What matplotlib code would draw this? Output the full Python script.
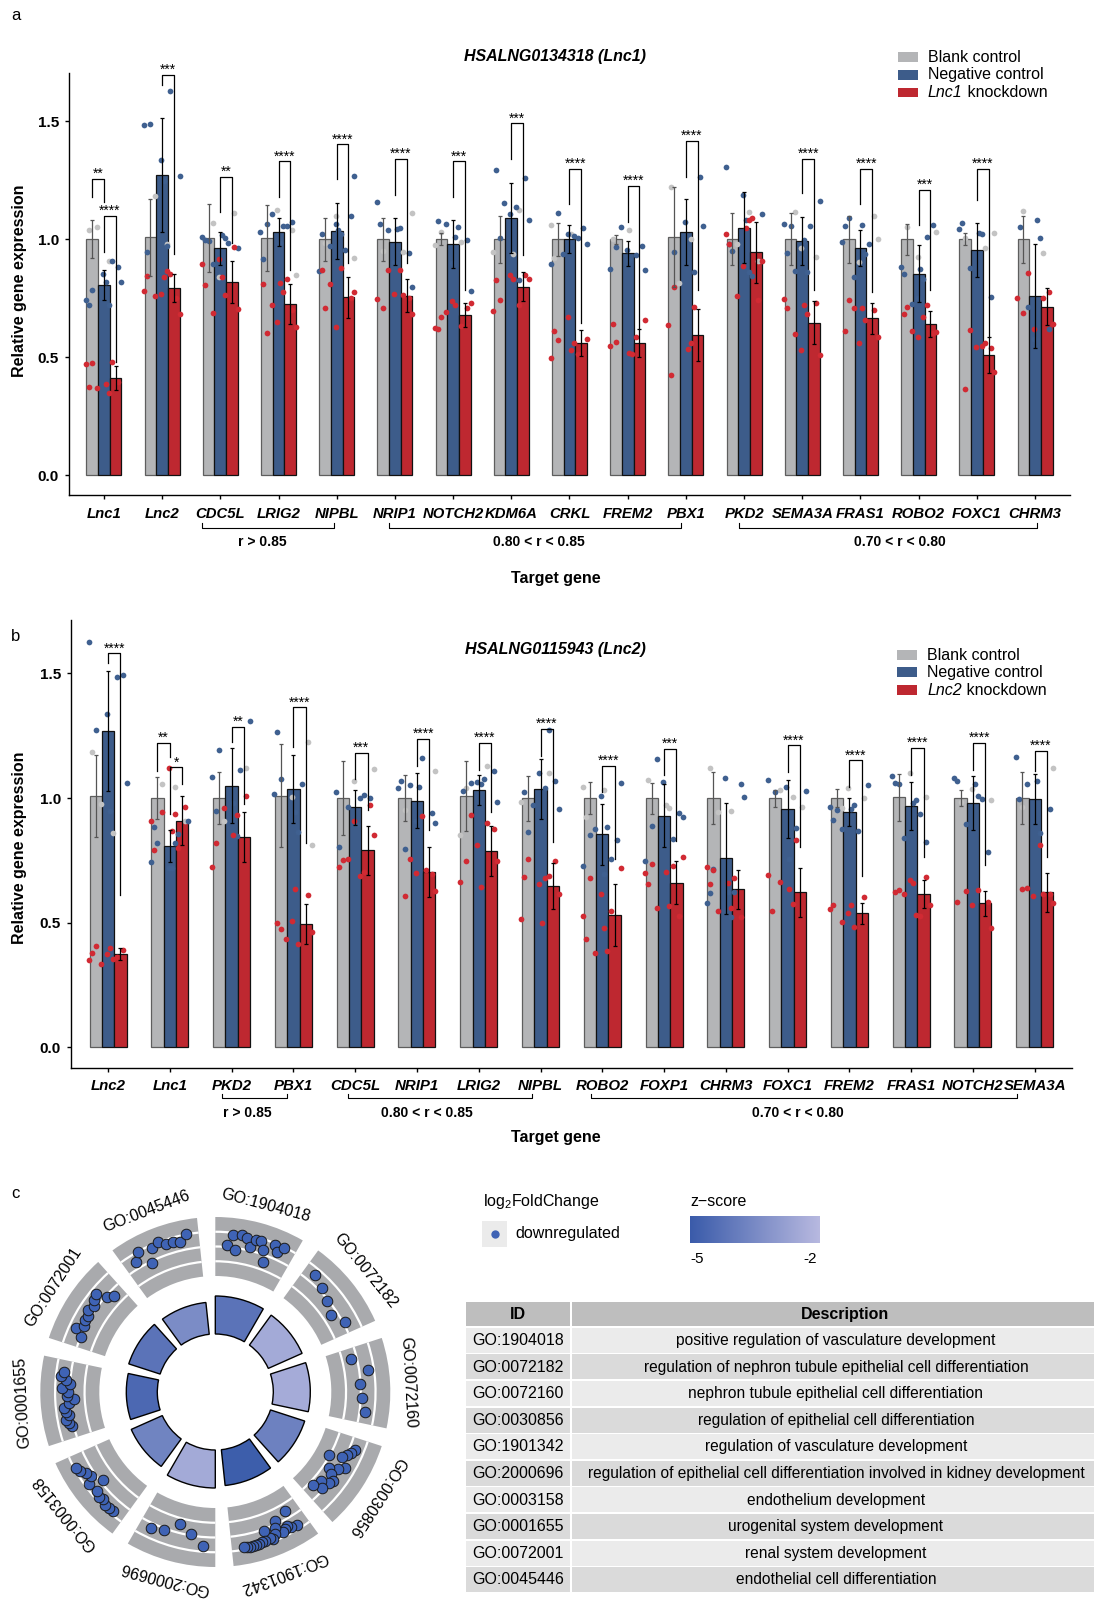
import numpy as np
import matplotlib
matplotlib.use("Agg")
import matplotlib.pyplot as plt
from matplotlib import font_manager
from matplotlib.patches import Rectangle, Wedge, Arc
from matplotlib.colors import LinearSegmentedColormap, Normalize
from matplotlib.transforms import blended_transform_factory

plt.rcParams['font.family'] = ['Liberation Sans', 'DejaVu Sans']
plt.rcParams['mathtext.fontset'] = 'custom'
plt.rcParams['mathtext.rm'] = 'Liberation Sans'
plt.rcParams['mathtext.it'] = 'Liberation Sans:italic'
plt.rcParams['mathtext.bf'] = 'Liberation Sans:bold'

_names = {f.name for f in font_manager.fontManager.ttflist}
NARROW = 'Liberation Sans Narrow' if 'Liberation Sans Narrow' in _names else 'Liberation Sans'
NARROW_SIZE = 11.5 if NARROW == 'Liberation Sans Narrow' else 10

W, H = 1094, 1601

# ---------------- panel a data ----------------
genes_a = ["Lnc1", "Lnc2", "CDC5L", "LRIG2", "NIPBL", "NRIP1", "NOTCH2", "KDM6A", "CRKL",
           "FREM2", "PBX1", "PKD2", "SEMA3A", "FRAS1", "ROBO2", "FOXC1", "CHRM3"]
blank_a = [1.0, 1.008, 1.005, 1.005, 1.0, 1.0, 1.0, 1.0, 1.0, 1.0, 1.01, 1.0, 1.0, 1.0, 1.0, 1.0, 1.0]
blank_a_err = [0.08, 0.165, 0.145, 0.14, 0.09, 0.09, 0.025, 0.1, 0.07, 0.02, 0.21, 0.11, 0.11, 0.1, 0.065, 0.025, 0.1]
neg_a = [0.806, 1.273, 0.962, 1.03, 1.035, 0.99, 0.98, 1.09, 1.0, 0.94, 1.033, 1.05, 0.993, 0.963, 0.855, 0.955, 0.76]
neg_a_err = [0.065, 0.24, 0.07, 0.06, 0.12, 0.1, 0.1, 0.15, 0.06, 0.055, 0.14, 0.15, 0.1, 0.075, 0.12, 0.115, 0.22]
kd_a = [0.412, 0.795, 0.82, 0.727, 0.755, 0.76, 0.68, 0.80, 0.562, 0.56, 0.596, 0.945, 0.647, 0.665, 0.643, 0.51, 0.715]
kd_a_err = [0.05, 0.06, 0.09, 0.085, 0.087, 0.07, 0.05, 0.063, 0.055, 0.06, 0.11, 0.13, 0.09, 0.065, 0.055, 0.075, 0.08]

dots_a_blank = [
    [1.04, 0.91, 1.054], [0.98, 1.185], [1.068, 1.113, 0.84], [1.04, 1.126, 0.85],
    [1.1, 0.922, 0.986], [1.11, 0.952, 0.945], [1.033, 0.99, 0.975], [1.124, 0.945, 0.939],
    [1.06, 1.021, 0.922], [1.041, 1.0], [1.222, 1.001, 0.815], [1.117, 0.982, 0.91],
    [1.117, 0.924, 0.965], [1.1, 0.904, 1.003], [0.925, 1.031, 1.054], [1.028, 1.007, 0.965],
    [1.12, 0.94],
]
dots_a_neg = [
    [0.884, 0.854, 0.82, 0.785, 0.908, 0.743, 0.82, 0.72, 0.72],
    [1.337, 1.27, 1.49, 1.627, 1.485, 1.248, 0.948, 0.97],
    [0.965, 0.994, 0.986, 1.01, 1.02, 0.999, 1.007, 0.894],
    [1.064, 1.058, 1.033, 0.986, 0.915, 1.058, 1.106, 1.072],
    [0.953, 0.866, 1.04, 1.023, 1.023, 0.97, 1.1, 1.066, 1.27],
    [1.158, 1.045, 1.066, 1.05, 1.04, 0.94, 0.904, 0.796],
    [1.01, 1.078, 1.052, 1.066, 0.996, 0.898, 0.782],
    [1.294, 1.139, 1.153, 1.259, 1.107, 1.082, 1.004, 0.827],
    [1.016, 0.936, 1.047, 1.024, 0.982, 1.113, 1.004, 0.894],
    [1.051, 0.973, 0.953, 0.868, 0.966, 0.935, 0.875, 0.912],
    [1.263, 1.074, 1.057, 0.945, 0.863],
    [1.19, 1.109, 0.95, 0.846, 1.308, 1.084, 0.979, 0.862],
    [1.164, 1.058, 1.058, 1.066, 0.996, 0.941, 0.862, 0.867],
    [1.089, 0.982, 0.99, 1.062, 1.055, 0.936, 0.84],
    [1.008, 0.884, 0.876, 0.853, 0.83, 0.724, 1.062, 0.753],
    [1.042, 1.027, 1.071, 1.024, 0.877, 0.755],
    [1.081, 1.054, 1.007, 0.714, 0.622, 0.577],
]
dots_a_kd = [
    [0.477, 0.48, 0.47, 0.387, 0.375, 0.347, 0.368, 0.395],
    [0.854, 0.78, 0.84, 0.843, 0.864, 0.76, 0.75, 0.77, 0.683],
    [0.895, 0.84, 0.805, 0.762, 0.686, 0.969, 0.915, 0.704],
    [0.813, 0.809, 0.778, 0.723, 0.7, 0.648, 0.63, 0.604, 0.832],
    [0.868, 0.878, 0.809, 0.75, 0.628, 0.775, 0.707],
    [0.87, 0.872, 0.75, 0.767, 0.685, 0.711, 0.762, 0.745],
    [0.693, 0.707, 0.737, 0.73, 0.669, 0.634, 0.624, 0.721, 0.618],
    [0.847, 0.849, 0.833, 0.744, 0.72, 0.697, 0.832, 0.829],
    [0.672, 0.577, 0.573, 0.515, 0.496, 0.529, 0.61, 0.559],
    [0.656, 0.563, 0.587, 0.547, 0.52, 0.64, 0.513],
    [0.798, 0.713, 0.635, 0.535, 0.426, 0.559],
    [1.092, 1.021, 1.047, 0.982, 1.081, 0.758, 0.743, 0.888, 0.907],
    [0.747, 0.721, 0.71, 0.683, 0.598, 0.731, 0.53, 0.509],
    [0.707, 0.611, 0.66, 0.71, 0.7, 0.562, 0.586, 0.741],
    [0.683, 0.669, 0.612, 0.601, 0.584, 0.608, 0.713, 0.721],
    [0.549, 0.615, 0.539, 0.542, 0.436, 0.365, 0.559],
    [0.856, 0.778, 0.62, 0.642, 0.689, 0.752, 0.75],
]
# (group, left bar, right bar, top, left leg end, right leg end, label)
sig_a = [
    (0, 0, 1, 1.256, 1.181, 1.16, "**"), (0, 1, 2, 1.099, 0.948, 0.48, "****"),
    (1, 1, 2, 1.696, 1.655, 0.936, "***"), (2, 1, 2, 1.266, 1.117, 0.983, "**"),
    (3, 1, 2, 1.33, 1.18, 0.87, "****"), (4, 1, 2, 1.403, 1.255, 0.9, "****"),
    (5, 1, 2, 1.34, 1.19, 0.898, "****"), (6, 1, 2, 1.33, 1.18, 0.785, "***"),
    (7, 1, 2, 1.492, 1.34, 0.933, "***"), (8, 1, 2, 1.30, 1.15, 0.644, "****"),
    (9, 1, 2, 1.226, 1.075, 0.622, "****"), (10, 1, 2, 1.416, 1.266, 0.785, "****"),
    (12, 1, 2, 1.34, 1.195, 0.785, "****"), (13, 1, 2, 1.30, 1.15, 0.778, "****"),
    (14, 1, 2, 1.209, 1.06, 0.785, "***"), (15, 1, 2, 1.30, 1.167, 0.587, "****"),
]
groups_a = [(1.68, 3.95, 2.72, "r > 0.85"), (4.89, 9.92, 7.47, "0.80 < r < 0.85"),
            (10.92, 16.04, 13.67, "0.70 < r < 0.80")]

# ---------------- panel b data ----------------
genes_b = ["Lnc2", "Lnc1", "PKD2", "PBX1", "CDC5L", "NRIP1", "LRIG2", "NIPBL", "ROBO2",
           "FOXP1", "CHRM3", "FOXC1", "FREM2", "FRAS1", "NOTCH2", "SEMA3A"]
blank_b = [1.008, 1.0, 1.0, 1.01, 1.0, 1.0, 1.007, 1.0, 1.0, 1.0, 1.0, 1.0, 1.0, 1.003, 1.0, 1.0]
blank_b_err = [0.165, 0.083, 0.105, 0.205, 0.148, 0.093, 0.14, 0.09, 0.065, 0.062, 0.104, 0.034, 0.037, 0.093, 0.031, 0.104]
neg_b = [1.27, 0.808, 1.05, 1.036, 0.964, 0.99, 1.031, 1.037, 0.855, 0.93, 0.758, 0.955, 0.943, 0.967, 0.982, 0.997]
neg_b_err = [0.24, 0.065, 0.15, 0.136, 0.07, 0.11, 0.06, 0.12, 0.123, 0.128, 0.224, 0.116, 0.056, 0.096, 0.108, 0.1]
kd_b = [0.374, 0.91, 0.843, 0.494, 0.79, 0.704, 0.789, 0.649, 0.53, 0.661, 0.634, 0.622, 0.538, 0.614, 0.578, 0.622]
kd_b_err = [0.023, 0.1, 0.1, 0.08, 0.098, 0.099, 0.1, 0.092, 0.124, 0.087, 0.077, 0.098, 0.042, 0.056, 0.05, 0.078]

dots_b_blank = [
    [1.186, 0.861, 0.977], [1.043, 1.055, 0.909], [0.909, 1.119], [1.224, 1.003, 0.812],
    [1.068, 1.115], [1.109, 0.952], [1.041, 1.128, 0.852], [1.1, 0.984],
    [1.046, 1.034, 0.925], [0.972, 1.071, 0.96], [1.122, 0.947, 0.943], [1.004, 1.031, 0.966],
    [0.96, 1.0, 1.04], [1.006, 1.1], [1.035, 0.993, 0.986], [1.119, 0.966],
]
dots_b_neg = [
    [1.494, 1.337, 1.06, 1.273, 1.486, 1.627, 0.947],
    [0.721, 0.908, 0.821, 0.855, 0.742, 0.718, 0.884, 0.821],
    [1.309, 1.193, 1.113, 1.083, 0.979, 0.95, 0.847],
    [1.075, 1.055, 1.015, 0.946, 1.264, 0.863],
    [1.011, 1.023, 0.895, 0.805, 0.999, 0.964, 0.999],
    [1.041, 1.046, 1.068, 1.159, 1.051, 0.942, 0.91, 0.901, 0.797],
    [1.057, 1.03, 1.076, 1.059, 1.109, 1.063, 0.984],
    [1.023, 1.039, 0.971, 1.067, 1.1, 0.955, 0.865, 1.272],
    [0.884, 0.877, 0.832, 1.01, 1.061, 0.852, 0.756, 0.726, 0.697],
    [1.155, 0.94, 1.063, 0.926, 0.89, 0.836, 0.748],
    [1.055, 1.082, 1.006, 0.714, 0.622, 0.578, 0.625, 0.618, 0.524],
    [1.044, 1.028, 1.026, 0.879, 1.073, 0.756],
    [1.051, 0.953, 0.869, 0.966, 0.955, 0.913, 0.971, 0.878],
    [1.055, 0.937, 1.09, 0.981, 1.062, 0.991, 0.841, 0.823],
    [0.998, 1.079, 1.055, 1.068, 1.01, 0.897, 0.783],
    [1.166, 1.068, 0.997, 0.86, 1.058, 0.956],
]
dots_b_kd = [
    [0.407, 0.362, 0.351, 0.4, 0.38, 0.355, 0.335, 0.392, 0.376],
    [0.801, 0.908, 0.87, 0.79, 0.935, 0.946, 0.964, 1.119],
    [0.722, 0.851, 0.821, 0.934, 0.959, 1.008],
    [0.636, 0.5, 0.415, 0.435, 0.611, 0.507, 0.464, 0.477],
    [0.725, 0.689, 0.756, 0.972, 0.909, 0.853, 0.75, 0.702],
    [0.929, 0.756, 0.694, 0.698, 0.626, 0.609, 0.712],
    [0.931, 0.876, 0.811, 0.749, 0.746, 0.9, 0.662, 0.643],
    [0.749, 0.657, 0.614, 0.756, 0.688, 0.514, 0.499, 0.684, 0.678],
    [0.614, 0.719, 0.68, 0.547, 0.527, 0.479, 0.435, 0.387, 0.377],
    [0.763, 0.737, 0.728, 0.701, 0.705, 0.654, 0.566, 0.561, 0.527],
    [0.713, 0.68, 0.725, 0.661, 0.657, 0.558, 0.547, 0.524],
    [0.831, 0.692, 0.634, 0.546, 0.575, 0.663],
    [0.554, 0.57, 0.57, 0.482, 0.504, 0.605, 0.539],
    [0.658, 0.623, 0.532, 0.617, 0.685, 0.672, 0.571, 0.63, 0.527],
    [0.583, 0.631, 0.627, 0.582, 0.571, 0.48],
    [0.812, 0.638, 0.614, 0.607, 0.578, 0.636, 0.616],
]
sig_b = [
    (0, 1, 2, 1.58, 1.54, 0.611, "****"), (1, 0, 1, 1.222, 1.11, 1.166, "**"),
    (1, 1, 2, 1.123, 0.936, 1.055, "*"), (2, 1, 2, 1.285, 1.224, 0.975, "**"),
    (3, 1, 2, 1.364, 1.206, 0.818, "****"), (4, 1, 2, 1.182, 1.075, 0.952, "***"),
    (5, 1, 2, 1.236, 1.128, 0.872, "****"), (6, 1, 2, 1.22, 1.113, 0.946, "****"),
    (7, 1, 2, 1.276, 1.167, 0.825, "****"), (8, 1, 2, 1.13, 1.023, 0.756, "****"),
    (9, 1, 2, 1.198, 1.091, 0.828, "***"), (11, 1, 2, 1.211, 1.106, 0.805, "****"),
    (12, 1, 2, 1.151, 1.046, 0.688, "****"), (13, 1, 2, 1.202, 1.093, 0.762, "****"),
    (14, 1, 2, 1.222, 1.113, 0.732, "****"), (15, 1, 2, 1.19, 1.108, 0.765, "****"),
]
groups_b = [(1.84, 2.89, 2.25, "r > 0.85"), (3.89, 6.87, 5.16, "0.80 < r < 0.85"),
            (7.82, 14.72, 11.16, "0.70 < r < 0.80")]

# ---------------- panel c data ----------------
go_ids = ["GO:1904018", "GO:0072182", "GO:0072160", "GO:0030856", "GO:1901342",
          "GO:2000696", "GO:0003158", "GO:0001655", "GO:0072001", "GO:0045446"]
go_desc = ["positive regulation of vasculature development",
           "regulation of nephron tubule epithelial cell differentiation",
           "nephron tubule epithelial cell differentiation",
           "regulation of epithelial cell differentiation",
           "regulation of vasculature development",
           "regulation of epithelial cell differentiation involved in kidney development",
           "endothelium development",
           "urogenital system development",
           "renal system development",
           "endothelial cell differentiation"]
go_zscore = [-4.3, -2.3, -2.25, -3.8, -5.1, -2.3, -3.7, -4.7, -4.3, -3.4]
go_sig = [3.8, 3.7, 3.7, 3.6, 3.6, 3.8, 3.4, 3.1, 3.3, 3.2]
go_lfc = [
    [-2.96, -1.93, -3.44, -1.83, -1.99, -2.81, -1.97, -1.99, -2.75, -3.9, -1.86, -2.42, -1.74],
    [-2.4, -2.81, -3.33, -3.86, -3.02],
    [-3.84, -2.36, -3.25, -3.08, -2.64],
    [-2.66, -2.9, -3.15, -3.5, -4.78, -2.71, -3.3, -4.14, -3.6, -2.95, -3.2, -3.94, -3.36, -4.3],
    [-2.14, -3.94, -2.3, -2.52, -2.4, -2.2, -3.59, -2.9, -2.3, -1.93, -2.1, -3.03, -2.0,
     -1.99, -1.95, -1.9, -1.9, -1.88, -1.9, -1.92],
    [-2.33, -3.35, -4.07, -3.01, -2.72],
    [-2.03, -2.0, -1.98, -2.24, -2.06, -2.34, -3.45, -2.1, -2.75, -2.5, -2.03, -1.88],
    [-3.01, -2.8, -2.58, -2.93, -2.7, -2.52, -3.1, -3.59, -2.92, -3.0, -2.4, -3.2, -2.8, -2.24, -2.5],
    [-3.27, -2.4, -3.0, -2.89, -2.91, -2.6, -2.87, -2.5, -2.34, -3.33, -3.81],
    [-2.47, -1.78, -3.38, -2.01, -1.69, -2.17, -2.1, -2.33, -1.65],
]

BAR_COLORS = ['#B4B5B7', '#3D5C8A', '#BE2830']
EDGE_COLORS = ['#5E5E5E', '#111111', '#111111']
DOT_COLORS = ['#C3C3C3', '#3F6090', '#D12A33']
ERR_COLORS = ['#555555', 'black', 'black']
OFFS = [-0.2, 0.0, 0.2]
JITTER = [-0.26, 0.08, -0.12, 0.24, -0.02, 0.30, -0.20, 0.14, -0.31, 0.03]


def fx(px):
    return px / W


def fy(py):
    return 1 - py / H


fig = plt.figure(figsize=(W / 100, H / 100), dpi=100)
renderer = fig.canvas.get_renderer()


def bar_panel(box, genes, means, errs, dots, sigs, ylim, xpad, xsize):
    left, top, right, bottom = box
    ax = fig.add_axes([fx(left), fy(bottom), (right - left) / W, (bottom - top) / H])
    x = np.arange(len(genes))
    for k in range(3):
        ax.bar(x + OFFS[k], means[k], width=0.2, color=BAR_COLORS[k],
               edgecolor=EDGE_COLORS[k], linewidth=0.9, zorder=2)
    for k in range(3):
        for i, vals in enumerate(dots[k]):
            jit = [JITTER[(j + 3 * k + i) % len(JITTER)] for j in range(len(vals))]
            ax.scatter(i + np.array(jit), vals, s=17, color=DOT_COLORS[k], linewidths=0, zorder=3)
    for k in range(3):
        ax.errorbar(x + OFFS[k], means[k], yerr=errs[k], fmt='none', ecolor=ERR_COLORS[k],
                    elinewidth=0.9, capsize=1.6, capthick=0.9, zorder=4)
    for g, a, b, top_y, lb, rb, lab in sigs:
        xl, xr = g + OFFS[a], g + OFFS[b]
        ax.plot([xl, xl, xr, xr], [lb, top_y, top_y, rb], color='black', lw=0.9, zorder=5, clip_on=False)
        ax.text((xl + xr) / 2, top_y + 0.004, lab, ha='center', va='baseline', fontsize=10,
                zorder=5, clip_on=False)
    ax.set_xlim(-0.6, len(genes) - 0.4)
    ax.set_ylim(*ylim)
    ax.spines[['top', 'right']].set_visible(False)
    for s in ('left', 'bottom'):
        ax.spines[s].set_linewidth(1.0)
    ax.set_yticks([0, 0.5, 1.0, 1.5])
    ax.set_yticklabels(['0.0', '0.5', '1.0', '1.5'], fontsize=11, fontweight='bold')
    ax.set_xticks(x)
    ax.set_xticklabels(genes, fontsize=xsize, fontweight='bold', fontstyle='italic')
    ax.tick_params(axis='both', direction='out', length=3, width=1.0)
    ax.tick_params(axis='x', pad=xpad)
    ax.tick_params(axis='y', pad=4.3)
    return ax


def group_brackets(ax, groups, y_line, y_text):
    tr = blended_transform_factory(ax.transData, fig.transFigure)
    for x1, x2, xt, lab in groups:
        ax.plot([x1, x1, x2, x2], [fy(y_line - 4.5), fy(y_line), fy(y_line), fy(y_line - 4.5)],
                transform=tr, color='black', lw=0.8, clip_on=False)
        ax.text(xt, fy(y_text), lab, transform=tr, ha='center', va='center',
                fontsize=NARROW_SIZE, fontweight='bold', family=[NARROW, 'DejaVu Sans'])


def legend_block(x_patch, ys, labels, gene):
    for y, c, lab in zip(ys, BAR_COLORS, labels):
        fig.add_artist(Rectangle((fx(x_patch), fy(y + 4.8)), 20 / W, 9.6 / H,
                                 facecolor=c, edgecolor='none', transform=fig.transFigure))
        if lab is None:
            t = fig.text(fx(x_patch + 30), fy(y), gene, ha='left', va='center', fontsize=11.5,
                         fontstyle='italic')
            bb = t.get_window_extent(renderer=renderer)
            fig.text(bb.x1 / W, fy(y), ' knockdown', ha='left', va='center', fontsize=11.5)
        else:
            fig.text(fx(x_patch + 30), fy(y), lab, ha='left', va='center', fontsize=11.5)


# ---- panel a ----
ax_a = bar_panel((69, 73, 1070, 494.6), genes_a, [blank_a, neg_a, kd_a],
                 [blank_a_err, neg_a_err, kd_a_err], [dots_a_blank, dots_a_neg, dots_a_kd],
                 sig_a, (-0.082, 1.705), 5.7, 10.7)
group_brackets(ax_a, groups_a, 528, 542)
fig.text(fx(16), fy(16), 'a', ha='center', va='center', fontsize=12)
fig.text(fx(555.5), fy(57), 'HSALNG0134318 (Lnc1)', ha='center', va='center',
         fontsize=11.5, fontweight='bold', fontstyle='italic')
fig.text(fx(19.6), fy(280.4), 'Relative gene expression', rotation=90, ha='center', va='center',
         fontsize=11.5, fontweight='bold')
fig.text(fx(556), fy(578), 'Target gene', ha='center', va='center', fontsize=11.5, fontweight='bold')
legend_block(898, [57.3, 75, 92.7], ['Blank control', 'Negative control', None], 'Lnc1')

# ---- panel b ----
ax_b = bar_panel((71, 620, 1071.8, 1068.3), genes_b, [blank_b, neg_b, kd_b],
                 [blank_b_err, neg_b_err, kd_b_err], [dots_b_blank, dots_b_neg, dots_b_kd],
                 sig_b, (-0.0834, 1.714), 5.0, 10.8)
group_brackets(ax_b, groups_b, 1098, 1112.7)
fig.text(fx(16), fy(636), 'b', ha='center', va='center', fontsize=12)
fig.text(fx(555), fy(649), 'HSALNG0115943 (Lnc2)', ha='center', va='center',
         fontsize=11.5, fontweight='bold', fontstyle='italic')
fig.text(fx(19.6), fy(848), 'Relative gene expression', rotation=90, ha='center', va='center',
         fontsize=11.5, fontweight='bold')
fig.text(fx(556), fy(1137), 'Target gene', ha='center', va='center', fontsize=11.5, fontweight='bold')
legend_block(897, [655, 672.3, 690], ['Blank control', 'Negative control', None], 'Lnc2')

# ---- panel c: GO circle ----
cmap = LinearSegmentedColormap.from_list('zs', ['#3A5BAA', '#B8B9E0'])
norm = Normalize(-5.2, -1.73)
CX, CY = 215.3, 1392
R_IN, TR_IN, TR_OUT = 58, 116, 175

ax_c = fig.add_axes([0, 0, 460 / W, 451 / H])
ax_c.set_xlim(-CX, 460 - CX)
ax_c.set_ylim(CY - H, CY - 1150)
ax_c.axis('off')
for i, gid in enumerate(go_ids):
    start = 36 * i
    t1, t2 = 90 - (start + 30), 90 - start
    r_out = R_IN + go_sig[i] * 10
    ax_c.add_patch(Wedge((0, 0), r_out, t1, t2, width=r_out - R_IN,
                         facecolor=cmap(norm(go_zscore[i])), edgecolor='black', lw=1.0))
    ax_c.add_patch(Wedge((0, 0), TR_OUT, t1, t2, width=TR_OUT - TR_IN,
                         facecolor='#A9AAAD', edgecolor='none'))
    for k in (1, 2, 3):
        r = TR_IN + (TR_OUT - TR_IN) * k / 4
        ax_c.add_patch(Arc((0, 0), 2 * r, 2 * r, theta1=t1, theta2=t2, color='white', lw=1.6))
    lfc = np.array(go_lfc[i])
    ang = np.radians(np.linspace(start + 4.5, start + 25.5, len(lfc)))
    rr = 118 + (lfc + 6) / 6 * 59
    ax_c.scatter(rr * np.sin(ang), rr * np.cos(ang), s=58, color='#3F63B5',
                 edgecolors='#1a1a1a', linewidths=0.7, zorder=3)
    mid = start + 15
    ax_c.text(193 * np.sin(np.radians(mid)), 193 * np.cos(np.radians(mid)), gid,
              rotation=-mid, rotation_mode='anchor', ha='center', va='center', fontsize=11.5)
fig.text(fx(15), fy(1193), 'c', ha='center', va='center', fontsize=12)

# ---- panel c: legend + table ----
ax_r = fig.add_axes([460 / W, 0, (W - 460) / W, 451 / H])
ax_r.text(483, 1201.7, r'log$_2$FoldChange', ha='left', va='center', fontsize=11.5)
ax_r.add_patch(Rectangle((482, 1220.7), 25, 26, facecolor='#EBEBEB', edgecolor='none'))
ax_r.scatter([494.5], [1233.7], s=36, color='#3F63B5', linewidths=0, zorder=3)
ax_r.text(515.7, 1233.7, 'downregulated', ha='left', va='center', fontsize=11.5)
ax_r.text(690, 1201.7, 'z\u2212score', ha='left', va='center', fontsize=11.5)
zmin, zmax = norm.vmin, norm.vmax
ax_r.imshow(np.linspace(zmin, zmax, 256)[None, :], extent=(690, 820, 1242.7, 1216),
            cmap=cmap, norm=norm, aspect='auto', interpolation='bilinear')
for v in (-5, -2):
    ax_r.text(690 + (v - zmin) / (zmax - zmin) * 130, 1259.3, f'{v}', ha='center', va='center', fontsize=11)

ax_r.add_patch(Rectangle((465.6, 1301.7), 104.7, 24.3, facecolor='#BEBEBE', edgecolor='none'))
ax_r.add_patch(Rectangle((572, 1301.7), 540, 24.3, facecolor='#BEBEBE', edgecolor='none'))
ax_r.text(518, 1314, 'ID', ha='center', va='center', fontsize=11.5, fontweight='bold')
ax_r.text(845, 1314, 'Description', ha='center', va='center', fontsize=11.5, fontweight='bold')
for i, (gid, desc) in enumerate(zip(go_ids, go_desc)):
    top = 1327.7 + 26.6 * i
    fill = '#EBEBEB' if i % 2 == 0 else '#DADADA'
    ax_r.add_patch(Rectangle((465.6, top), 104.7, 25, facecolor=fill, edgecolor='none'))
    ax_r.add_patch(Rectangle((572, top), 540, 25, facecolor=fill, edgecolor='none'))
    ax_r.text(472.6, top + 12.8, gid, ha='left', va='center', fontsize=11.5)
    ax_r.text(836, top + 12.8, desc, ha='center', va='center', fontsize=11.2)
ax_r.set_xlim(460, W)
ax_r.set_ylim(H, 1150)
ax_r.axis('off')

fig.savefig('out.png', dpi=100)
